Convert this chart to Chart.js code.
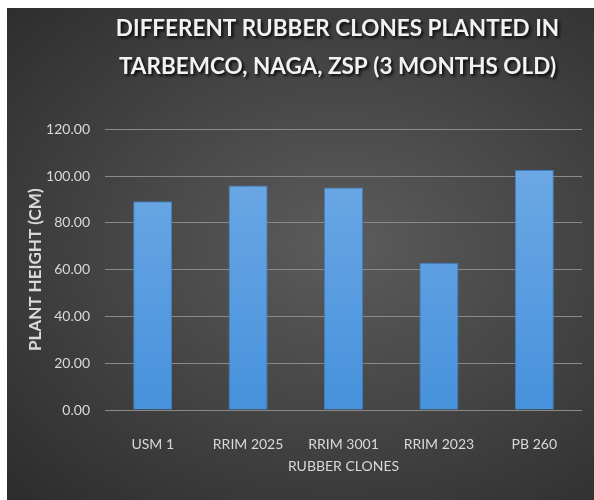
<!DOCTYPE html>
<html>
<head>
<meta charset="utf-8">
<script src="https://cdn.jsdelivr.net/npm/chart.js@4.4.0/dist/chart.umd.min.js"></script>
<style>
    html, body { margin: 0; padding: 0; background: #ffffff; }
    #wrap {
        position: absolute;
        left: 7px;
        top: 8px;
        width: 587px;
        height: 492px;
        background: radial-gradient(ellipse at 57% 48%, #5c5c5c 0%, #444444 50%, #2c2c2c 100%);
    }
</style>
</head>
<body>
<div id="wrap"><canvas id="chart" width="587" height="492"></canvas></div>
<script>
// values
var clones = ['USM 1', 'RRIM 2025', 'RRIM 3001', 'RRIM 2023', 'PB 260'];
var heights = [89.3, 96.0, 95.2, 62.9, 102.6];
var yTicks = [0, 20, 40, 60, 80, 100, 120];

var titleLines = ['DIFFERENT RUBBER CLONES PLANTED IN', 'TARBEMCO, NAGA, ZSP (3 MONTHS OLD)'];

var ctx = document.getElementById('chart').getContext('2d');

function barFill(context) {
    var area = context.chart.chartArea;
    if (!area) {
        return '#5b9bd5';
    }
    var g = context.chart.ctx.createLinearGradient(0, area.top, 0, area.bottom);
    g.addColorStop(0, '#72abe6');
    g.addColorStop(1, '#4692dc');
    return g;
}

// drop shadow behind the title text only, nudged a bit left like the original
var titleShadow = {
    id: 'titleShadow',
    afterLayout: function (chart) {
        var t = chart.titleBlock;
        if (!t || t._shadowed) {
            return;
        }
        var orig = t.draw.bind(t);
        t.draw = function () {
            var c = chart.ctx;
            c.save();
            c.translate(-6, 0);
            c.shadowColor = 'rgba(0,0,0,0.85)';
            c.shadowOffsetX = 2;
            c.shadowOffsetY = 2;
            c.shadowBlur = 3;
            orig.apply(null, arguments);
            c.restore();
        };
        t._shadowed = true;
    }
};

new Chart(ctx, {
    type: 'bar',
    data: {
        labels: clones,
        datasets: [
            {
                data: heights,
                backgroundColor: barFill,
                borderColor: '#3f7fbf',
                borderWidth: 1,
                categoryPercentage: 1,
                barPercentage: 0.41
            }
        ]
    },
    plugins: [titleShadow],
    options: {
        responsive: false,
        animation: false,
        layout: {
            padding: { left: 0, right: 12, top: 0, bottom: 0 }
        },
        scales: {
            x: {
                grid: { display: false },
                border: { display: false },
                ticks: {
                    color: '#d9d9d9',
                    padding: 18,
                    font: { family: 'Lato', size: 14 }
                },
                title: {
                    display: true,
                    text: 'RUBBER CLONES',
                    color: '#d9d9d9',
                    font: { family: 'Lato', size: 14 },
                    padding: { top: 0, bottom: 25 }
                },
                afterFit: function (scale) {
                    scale.height = 90;
                }
            },
            y: {
                min: 0,
                max: 120,
                afterBuildTicks: function (scale) {
                    scale.ticks = yTicks.map(function (v) { return { value: v }; });
                },
                grid: {
                    color: '#8a8a8a',
                    lineWidth: 1,
                    drawTicks: false
                },
                border: { display: false },
                ticks: {
                    color: '#d9d9d9',
                    padding: 15,
                    font: { family: 'Lato', size: 14 },
                    callback: function (value) {
                        return Number(value).toFixed(2);
                    }
                },
                title: {
                    display: true,
                    text: 'PLANT HEIGHT (CM)',
                    color: '#d9d9d9',
                    font: { family: 'Lato', size: 17, weight: 'bold' },
                    padding: { top: 18, bottom: 0 }
                },
                afterFit: function (scale) {
                    scale.width = 98;
                }
            }
        },
        plugins: {
            legend: { display: false },
            tooltip: { enabled: false },
            title: {
                display: true,
                fullSize: false,
                text: titleLines,
                color: '#f2f2f2',
                font: { family: 'Lato', size: 22.5, weight: 'bold', lineHeight: 1.72 },
                padding: { top: 1, bottom: 43 }
            }
        }
    }
});
</script>
</body>
</html>
